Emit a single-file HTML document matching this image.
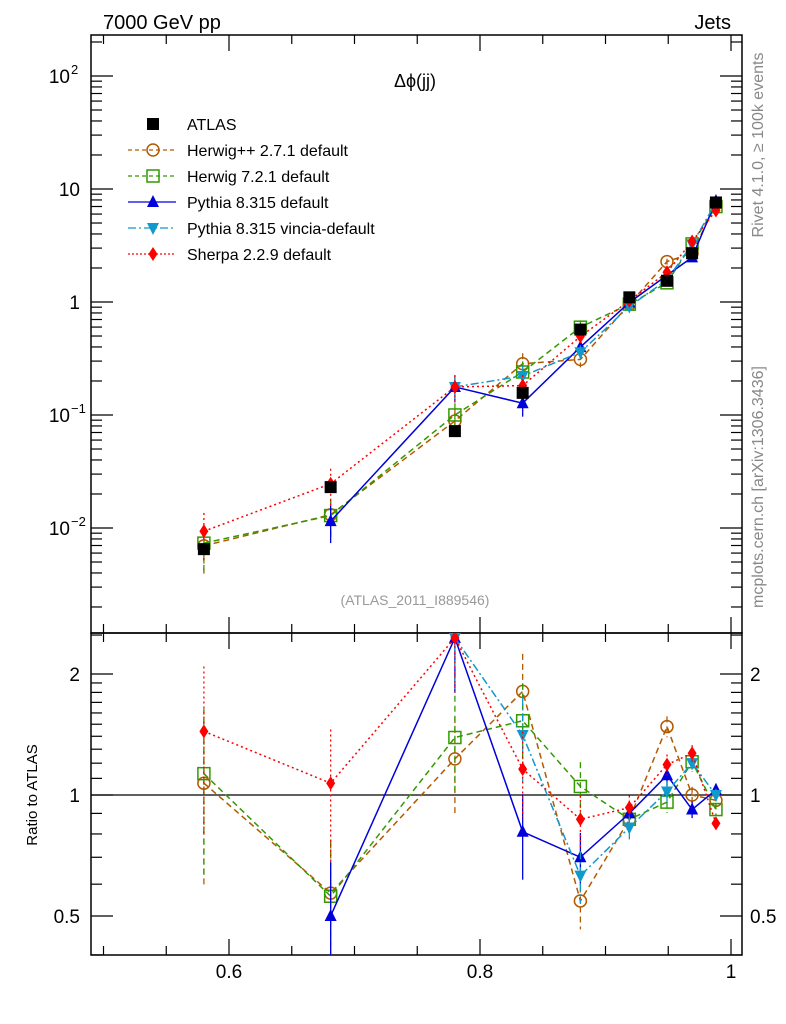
<!DOCTYPE html>
<html><head><meta charset="utf-8"><style>
body{margin:0;background:#fff;}
svg{display:block;font-family:"Liberation Sans",sans-serif;}
</style></head><body>
<svg id="c" width="786" height="1024" xmlns="http://www.w3.org/2000/svg"></svg>
<script>
const xs = [0.580, 0.681, 0.780, 0.834, 0.880, 0.919, 0.949, 0.969, 0.988];
const atlas = [0.0065, 0.023, 0.072, 0.157, 0.57, 1.1, 1.54, 2.7, 7.6];
const atlasErr = [0.0005, 0.002, 0.008, 0.02, 0.05, 0.08, 0.1, 0.2, 0.5];
const rHerwigPP = [1.07, 0.57, 1.23, 1.81, 0.545, 0.87, 1.48, 1.0, 0.97];
const rHerwig7 = [1.13, 0.56, 1.39, 1.53, 1.05, 0.87, 0.96, 1.21, 0.92];
const rPythia = [null, 0.5, 2.46, 0.81, 0.70, 0.90, 1.12, 0.92, 1.03];
const rVincia = [null, null, 2.46, 1.41, 0.63, 0.83, 1.02, 1.2, 1.0];
const rSherpa = [1.44, 1.07, 2.46, 1.16, 0.87, 0.93, 1.19, 1.27, 0.85];
const relErr = [0.75, 0.6, 0.45, 0.4, 0.25, 0.12, 0.1, 0.08, 0.06];
const xTicks = [0.6, 0.8, 1];
const xTickLabels = ["0.6", "0.8", "1"];

const svg = document.getElementById('c');
const NS = 'http://www.w3.org/2000/svg';
function el(tag, attrs, parent){const e=document.createElementNS(NS,tag);for(const k in attrs)e.setAttribute(k,attrs[k]);(parent||svg).appendChild(e);return e;}
const L=91,R=742,T=35,MB=633,RB=955;
const X=v=>229+(v-0.6)*1255;
const Y=v=>76+(2-Math.log10(v))*113;
const YR=v=>795-Math.log2(v)*121;

// frames
let f1=el('rect',{x:L,y:T,width:R-L,height:MB-T,fill:'none',stroke:'#000','stroke-width':1.5});


let f2=el('rect',{x:L,y:MB,width:R-L,height:RB-MB,fill:'none',stroke:'#000','stroke-width':1.5});



// x ticks
for(let v=0.5;v<=1.001;v+=0.05){
  const px=X(v); if(px<L||px>R) continue;
  const major=xTicks.some(t=>Math.abs(t-v)<1e-6); const len=major?16:9;
  [[T,T+len],[MB,MB-len],[MB,MB+len],[RB,RB-len]].forEach(([a,b])=>{
    const t=el('line',{x1:px,x2:px,y1:a,y2:b,stroke:'#000','stroke-width':1.2});
    
    
  });
}
xTicks.forEach((v,i)=>{const t=el('text',{x:X(v),y:978,'font-size':19,'text-anchor':'middle'});t.textContent=xTickLabels[i];
  
  });

// main y ticks
for(let d=-3;d<=2;d++){for(let m=1;m<=9;m++){const v=m*Math.pow(10,d);const py=Y(v);if(py<T||py>MB)continue;
  const len=m===1?22:11;
  [[L,L+len],[R,R-len]].forEach(([a,b])=>{const t=el('line',{x1:a,x2:b,y1:py,y2:py,stroke:'#000','stroke-width':1.2});
    
    });}}
const yl=[[100,'10','2'],[10,'10',null],[1,'1',null],[0.1,'10','−1'],[0.01,'10','−2']];
yl.forEach(([v,b,s])=>{const t=el('text',{x:s?70:80,y:Y(v)+7,'font-size':19,'text-anchor':'end'});t.textContent=b;
  
  
  if(s){const u=el('text',{x:71,y:Y(v)-2,'font-size':13});u.textContent=s;
    
    }});

// ratio y ticks
[0.4,0.5,0.6,0.7,0.8,0.9,1,1.1,1.2,1.3,1.4,1.5,1.6,1.7,1.8,1.9,2,2.5].forEach(v=>{const py=YR(v);if(py<MB||py>RB)return;
  const major=[0.5,1,2].includes(v);const len=major?22:11;
  [[L,L+len],[R,R-len]].forEach(([a,b])=>{const t=el('line',{x1:a,x2:b,y1:py,y2:py,stroke:'#000','stroke-width':1.2});
    
    });});
[[2,'2'],[1,'1'],[0.5,'0.5']].forEach(([v,s])=>{
  let t=el('text',{x:80,y:YR(v)+7,'font-size':19,'text-anchor':'end'});t.textContent=s;
  
  
  t=el('text',{x:750,y:YR(v)+7,'font-size':19});t.textContent=s;
  
  });
let one=el('line',{x1:L,x2:R,y1:YR(1),y2:YR(1),stroke:'#000','stroke-width':1.3});



// clip paths
const defs=el('defs',{});
el('rect',{x:L,y:T,width:R-L,height:MB-T},el('clipPath',{id:'cm'},defs));
el('rect',{x:L,y:MB,width:R-L,height:RB-MB},el('clipPath',{id:'cr'},defs));
const gm=el('g',{'clip-path':'url(#cm)'}); const gr=el('g',{'clip-path':'url(#cr)'});

function marker(g,type,x,y,color){
  let m;
  if(type==='sq') m=el('rect',{x:x-6,y:y-6,width:12,height:12,fill:'#000'},g);
  else if(type==='circ') m=el('circle',{cx:x,cy:y,r:6,fill:'none',stroke:color,'stroke-width':1.5},g);
  else if(type==='osq') m=el('rect',{x:x-6,y:y-6,width:12,height:12,fill:'none',stroke:color,'stroke-width':1.5},g);
  else if(type==='up') m=el('polygon',{points:`${x},${y-7} ${x-6},${y+5} ${x+6},${y+5}`,fill:color},g);
  else if(type==='down') m=el('polygon',{points:`${x},${y+7} ${x-6},${y-5} ${x+6},${y-5}`,fill:color},g);
  else if(type==='dia') m=el('polygon',{points:`${x},${y-7} ${x-4.5},${y} ${x},${y+7} ${x+4.5},${y}`,fill:color},g);
  return m;
}
const series=[
  {name:'herwigpp',r:rHerwigPP,color:'#b35900',dash:'6,4',m:'circ'},
  {name:'herwig7',r:rHerwig7,color:'#339900',dash:'6,4',m:'osq'},
  {name:'pythia',r:rPythia,color:'#0000dd',dash:'',m:'up'},
  {name:'vincia',r:rVincia,color:'#1199cc',dash:'8,3,2,3',m:'down'},
  {name:'sherpa',r:rSherpa,color:'#ff0000',dash:'2,3',m:'dia'},
];
series.forEach(s=>{
  [[gm,i=>Y(s.r[i]*atlas[i]),(i,k)=>Y(s.r[i]*atlas[i]*(1+k*relErr[i]*0.6))],[gr,i=>YR(s.r[i]),(i,k)=>YR(Math.max(0.01,s.r[i]*(1+k*relErr[i]*0.6)))]].forEach(([g,fy,fe],pi)=>{
    let pts=[];xs.forEach((x,i)=>{if(s.r[i]!=null)pts.push(X(x)+','+fy(i));});
    const pl=el('polyline',{points:pts.join(' '),fill:'none',stroke:s.color,'stroke-width':1.5,'stroke-dasharray':s.dash},g);
    
    
    xs.forEach((x,i)=>{if(s.r[i]==null)return;
      const eb=el('line',{x1:X(x),x2:X(x),y1:fe(i,1),y2:fe(i,-1),stroke:s.color,'stroke-width':1.3,'stroke-dasharray':s.dash},g);
      
      
      const mk=marker(g,s.m,X(x),fy(i),s.color);
      
      
    });
  });
});
xs.forEach((x,i)=>{
  const eb=el('line',{x1:X(x),x2:X(x),y1:Y(atlas[i]+atlasErr[i]),y2:Y(atlas[i]-atlasErr[i]),stroke:'#000','stroke-width':1.3},gm);
  
  
  const mk=marker(gm,'sq',X(x),Y(atlas[i]),'#000');
  
  
});

// legend
const leg=[['ATLAS','#000','','sq'],['Herwig++ 2.7.1 default','#b35900','4,3','circ'],['Herwig 7.2.1 default','#339900','4,3','osq'],['Pythia 8.315 default','#0000dd','','up'],['Pythia 8.315 vincia-default','#1199cc','8,3,2,3','down'],['Sherpa 2.2.9 default','#ff0000','2,2','dia']];
leg.forEach((e,i)=>{const y=124+i*26;
  const g=el('g',{});
  
  
  if(i>0) el('line',{x1:128,x2:176,y1:y,y2:y,stroke:e[1],'stroke-width':1.3,'stroke-dasharray':e[2]},g);
  marker(g,e[3],153,y,e[1]);
  const t=el('text',{x:187,y:y+6,'font-size':16},g);t.textContent=e[0];});

function txt(s,x,y,size,attrs,name){const t=el('text',Object.assign({x,y,'font-size':size},attrs||{}));t.textContent=s;
  
  return t;}
txt('7000 GeV pp',103,29,20,{},'energy-label');
txt('Jets',731,29,20,{'text-anchor':'end'},'process-label');
txt('Δϕ(jj)',415,87,18,{'text-anchor':'middle'},'plot-title');
txt('(ATLAS_2011_I889546)',415,605,14,{'text-anchor':'middle',fill:'#999'},'analysis-id');
txt('Rivet 4.1.0, ≥ 100k events',0,0,16,{fill:'#888','text-anchor':'middle',transform:'translate(763,145) rotate(-90)'},'rivet-label');
txt('mcplots.cern.ch [arXiv:1306.3436]',0,0,16,{fill:'#888','text-anchor':'middle',transform:'translate(763,487) rotate(-90)'},'mcplots-label');
txt('Ratio to ATLAS',0,0,15,{'text-anchor':'middle',transform:'translate(37,795) rotate(-90)'},'ratio-y-axis-title');
</script>
</body></html>
